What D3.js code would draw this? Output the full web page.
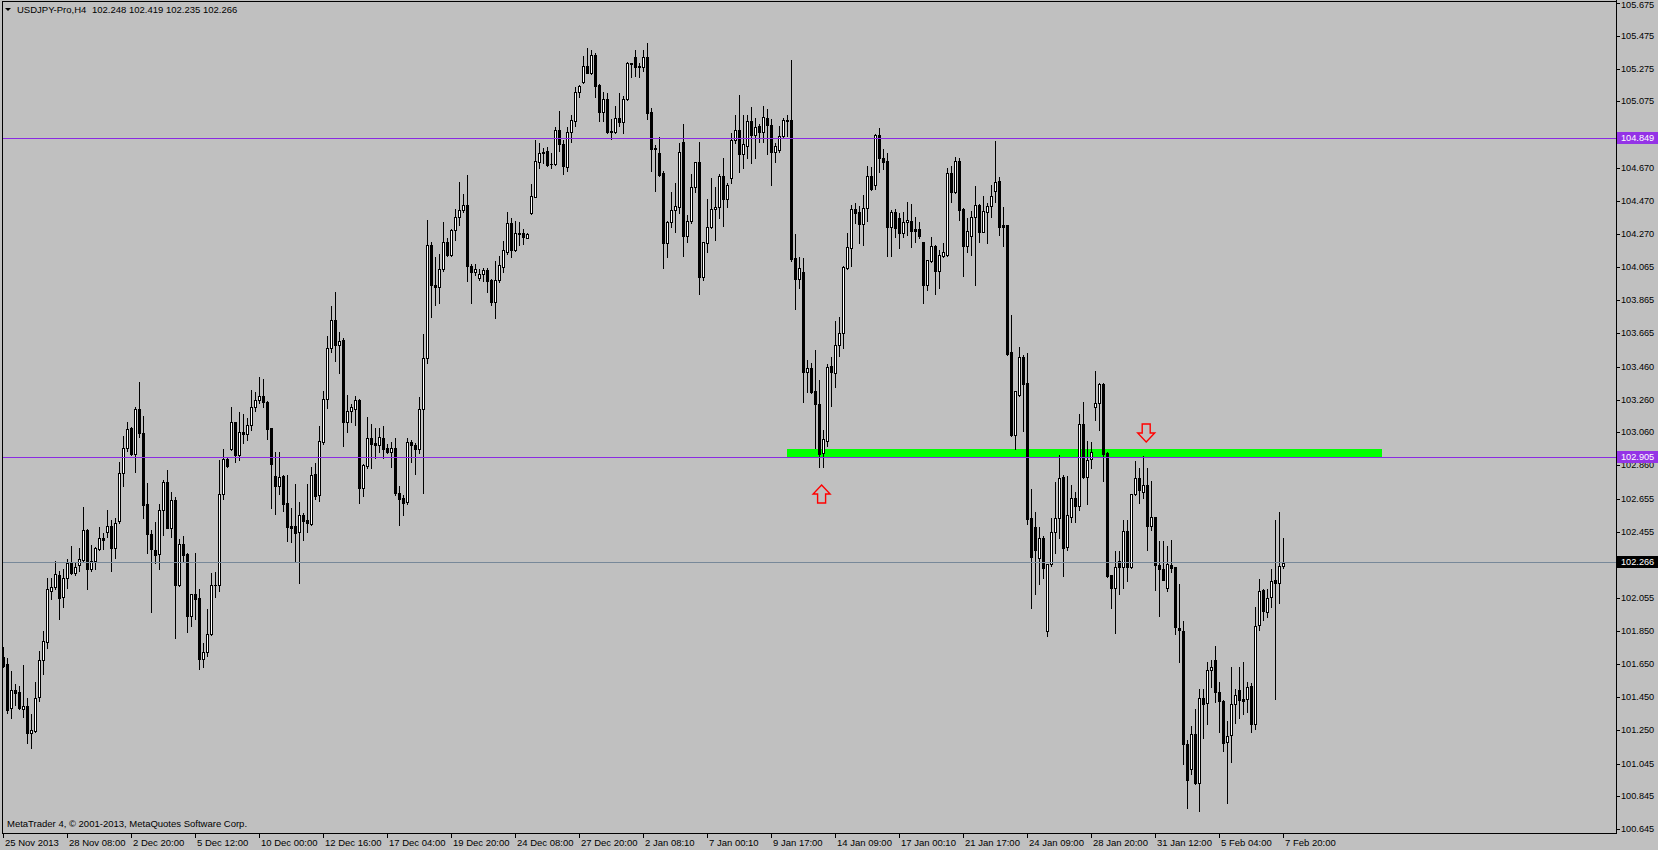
<!DOCTYPE html>
<html><head><meta charset="utf-8">
<script src="https://cdn.jsdelivr.net/npm/d3@7"></script>
<style>
html,body{margin:0;padding:0;background:#c0c0c0;overflow:hidden;}
svg{display:block;}
text{font-family:"Liberation Sans",Arial,sans-serif;}
</style></head><body>
<svg id="chart" width="1658" height="850"></svg>
<script>
const symbol = "USDJPY-Pro,H4";
const copyright = "MetaTrader 4, © 2001-2013, MetaQuotes Software Corp.";

const opens = [
101.695,101.650,101.380,101.492,101.478,101.378,101.395,101.232,101.244,101.447,
101.675,101.786,102.097,102.117,102.192,102.056,102.172,102.263,102.206,102.251,
102.283,102.464,102.231,102.275,102.352,102.415,102.456,102.488,102.354,102.519,
102.811,102.963,103.085,102.929,103.200,103.054,102.622,102.440,102.344,102.318,
102.586,102.756,102.480,102.647,102.133,102.379,102.320,101.945,102.074,102.052,
101.679,101.721,101.831,102.129,102.129,102.683,102.896,102.960,103.121,102.925,
103.065,103.048,103.103,103.213,103.257,103.281,103.247,103.085,102.794,102.736,
102.794,102.628,102.492,102.492,102.451,102.557,102.527,102.502,102.807,102.679,
103.003,103.261,103.571,103.744,103.592,103.622,103.125,103.192,103.200,103.257,
102.723,102.857,103.024,102.993,102.983,103.024,102.965,102.942,102.967,102.689,
102.658,102.634,102.999,102.981,102.957,103.200,103.511,104.198,103.957,103.947,
104.052,104.217,104.142,104.292,104.373,104.411,104.444,104.075,104.038,103.998,
104.022,104.048,103.985,103.856,103.985,104.069,104.160,104.332,104.170,104.271,
104.271,104.246,104.394,104.495,104.708,104.767,104.773,104.694,104.692,104.901,
104.816,104.678,104.887,104.958,105.130,105.195,105.291,105.250,105.358,105.175,
105.013,105.088,104.895,104.891,104.972,104.952,105.088,105.307,105.343,105.291,
105.287,105.343,105.013,104.794,104.759,104.637,104.211,104.339,104.412,104.432,
104.828,104.258,104.345,104.552,104.704,104.008,104.211,104.309,104.418,104.434,
104.621,104.483,104.607,104.840,104.901,104.757,104.806,104.956,104.869,104.925,
104.891,104.972,104.929,104.769,104.779,104.865,104.962,104.962,104.120,103.996,
104.039,103.430,103.450,103.312,103.231,102.937,103.008,103.465,103.424,103.592,
103.667,104.063,104.185,104.418,104.400,104.327,104.424,104.621,104.566,104.871,
104.733,104.712,104.313,104.404,104.363,104.276,104.339,104.345,104.296,104.296,
104.217,103.957,104.105,104.194,104.044,104.136,104.140,104.637,104.525,104.712,
104.420,104.197,104.257,104.369,104.444,104.282,104.403,104.438,104.531,104.590,
104.322,104.322,103.547,103.044,103.288,103.517,103.361,102.537,102.482,102.297,
102.415,101.853,102.257,102.456,102.537,102.787,102.365,102.547,102.659,102.614,
103.111,102.787,102.898,103.213,103.237,103.355,102.933,102.192,102.111,102.275,
102.239,102.460,102.243,102.683,102.781,102.695,102.738,102.493,102.543,102.251,
102.227,102.115,102.251,102.239,101.867,101.851,101.161,101.009,101.222,100.924,
101.441,101.411,101.612,101.675,101.478,101.427,101.173,101.218,101.405,101.490,
101.437,101.437,101.514,101.287,101.888,102.099,101.969,102.056,102.160,102.141,
102.248];

const highs = [
101.756,101.685,101.608,101.529,101.516,101.644,101.441,101.346,101.539,101.729,
101.853,102.172,102.172,102.277,102.218,102.229,102.289,102.369,102.273,102.354,
102.606,102.470,102.375,102.360,102.484,102.446,102.588,102.527,102.541,102.882,
103.038,103.123,103.095,103.217,103.369,103.160,102.750,102.466,102.513,102.624,
102.770,102.831,102.699,102.667,102.409,102.431,102.325,102.078,102.326,102.105,
101.776,101.983,102.206,102.210,102.892,102.957,102.912,103.213,103.125,103.186,
103.170,103.150,103.318,103.308,103.395,103.385,103.250,103.090,102.942,102.938,
102.800,102.798,102.598,102.744,102.634,102.569,102.744,102.849,102.874,103.101,
103.312,103.649,103.831,103.916,103.673,103.632,103.287,103.235,103.283,103.262,
102.865,103.154,103.109,103.089,103.085,103.097,102.987,103.003,103.028,102.734,
102.679,103.028,103.014,102.997,103.273,103.659,104.353,104.221,104.125,104.146,
104.343,104.241,104.296,104.418,104.582,104.509,104.627,104.085,104.085,104.052,
104.063,104.058,103.991,104.103,104.134,104.225,104.399,104.363,104.347,104.343,
104.297,104.276,104.572,104.840,104.820,104.794,104.800,104.759,104.917,105.017,
104.840,104.917,104.992,105.161,105.172,105.352,105.398,105.388,105.368,105.180,
105.135,105.128,104.968,105.047,105.128,105.108,105.317,105.310,105.388,105.311,
105.388,105.429,105.036,104.810,104.856,104.654,104.345,104.522,104.576,104.820,
104.938,104.382,104.631,104.708,104.828,104.220,104.481,104.607,104.552,104.631,
104.729,104.576,104.885,104.992,105.114,104.992,104.992,105.043,104.972,104.938,
105.047,105.027,104.966,104.820,104.925,104.972,104.992,105.327,104.268,104.126,
104.120,103.501,103.481,103.562,103.379,103.075,103.477,103.521,103.738,103.765,
104.073,104.276,104.445,104.459,104.438,104.505,104.682,104.678,104.877,104.911,
104.783,104.759,104.414,104.418,104.398,104.404,104.461,104.448,104.371,104.339,
104.220,104.112,104.247,104.201,104.168,104.215,104.671,104.683,104.736,104.730,
104.425,104.363,104.408,104.560,104.448,104.499,104.454,104.566,104.834,104.612,
104.432,104.325,103.774,103.315,103.580,103.531,103.541,102.713,102.573,102.486,
102.431,102.260,102.537,102.760,102.923,102.801,102.795,102.740,102.700,103.172,
103.243,103.008,103.004,103.434,103.358,103.360,102.940,102.195,102.340,102.340,
102.527,102.527,102.686,102.886,102.846,102.919,102.846,102.767,102.548,102.399,
102.399,102.369,102.407,102.242,102.135,101.912,101.188,101.273,101.376,101.496,
101.496,101.664,101.675,101.760,101.539,101.431,101.303,101.630,101.496,101.630,
101.660,101.539,101.537,101.995,102.168,102.105,102.107,102.227,102.527,102.578,
102.419];

const lows = [
101.634,101.354,101.324,101.401,101.374,101.326,101.167,101.141,101.238,101.427,
101.587,101.746,102.046,102.107,101.926,101.999,102.115,102.196,102.192,102.218,
102.273,102.107,102.218,102.231,102.344,102.348,102.425,102.218,102.298,102.511,
102.734,102.947,102.922,102.821,103.030,102.537,102.324,101.969,102.263,102.231,
102.436,102.476,102.425,101.811,102.125,102.273,101.843,101.884,101.922,101.618,
101.630,101.699,101.825,102.060,102.095,102.653,102.850,102.955,102.882,102.892,
102.993,103.014,103.075,103.192,103.241,103.216,103.020,102.602,102.565,102.683,
102.581,102.399,102.395,102.277,102.145,102.405,102.456,102.496,102.654,102.642,
102.987,103.210,103.551,103.494,103.423,102.979,103.064,103.121,103.105,102.632,
102.675,102.845,102.845,102.906,102.942,102.906,102.935,102.851,102.680,102.494,
102.555,102.625,102.882,102.807,102.932,102.689,103.480,103.764,103.835,103.849,
104.044,104.134,104.134,104.231,104.322,104.403,103.983,103.845,104.018,103.987,
103.983,103.916,103.835,103.758,103.977,104.038,104.146,104.129,104.164,104.200,
104.207,104.242,104.388,104.490,104.672,104.698,104.682,104.672,104.688,104.773,
104.633,104.654,104.830,104.928,105.104,105.185,105.246,105.240,105.104,104.956,
104.958,104.885,104.846,104.885,104.926,104.885,105.084,105.226,105.230,105.226,
105.262,104.968,104.654,104.532,104.621,104.063,104.126,104.309,104.282,104.394,
104.136,104.221,104.337,104.526,103.901,103.988,104.156,104.302,104.231,104.363,
104.317,104.430,104.580,104.820,104.647,104.672,104.729,104.698,104.729,104.830,
104.830,104.753,104.564,104.708,104.769,104.856,104.865,104.104,103.813,103.941,
103.247,103.308,103.298,102.967,102.848,102.848,102.978,103.221,103.339,103.525,
103.576,104.053,104.073,104.333,104.215,104.201,104.347,104.536,104.544,104.647,
104.662,104.136,104.136,104.252,104.185,104.252,104.260,104.190,104.221,104.245,
103.850,103.927,104.099,103.904,103.939,104.130,104.134,104.464,104.515,104.355,
104.012,104.160,104.140,103.957,104.221,104.278,104.215,104.373,104.464,104.263,
104.197,103.531,103.040,102.959,103.283,103.068,102.504,101.993,102.076,102.139,
102.175,101.821,102.247,102.328,102.415,102.186,102.344,102.517,102.517,102.588,
102.781,102.624,102.842,103.136,103.075,102.767,102.180,101.989,101.837,102.077,
102.115,102.156,102.237,102.679,102.629,102.659,102.344,102.466,102.101,101.943,
102.160,102.095,102.212,101.831,101.664,101.044,100.772,100.979,100.920,100.756,
101.198,101.283,101.512,101.417,101.234,101.123,100.802,101.056,101.293,101.320,
101.346,101.360,101.238,101.255,101.855,101.918,101.938,101.995,101.435,102.020,
102.235];

const closes = [
101.638,101.370,101.492,101.476,101.380,101.395,101.232,101.249,101.441,101.675,
101.790,102.107,102.117,102.196,102.054,102.172,102.263,102.206,102.243,102.287,
102.464,102.231,102.275,102.354,102.415,102.407,102.488,102.354,102.511,102.811,
102.963,103.079,102.929,103.200,103.054,102.618,102.440,102.348,102.312,102.586,
102.756,102.480,102.647,102.133,102.379,102.312,101.945,102.074,102.048,101.683,
101.721,101.831,102.129,102.131,102.683,102.896,102.858,103.121,102.925,103.065,
103.048,103.103,103.213,103.257,103.282,103.243,103.080,102.865,102.736,102.786,
102.626,102.486,102.480,102.449,102.557,102.520,102.510,102.798,102.673,103.007,
103.261,103.576,103.744,103.592,103.616,103.125,103.190,103.214,103.257,102.723,
102.861,103.024,102.989,102.983,103.030,102.959,102.942,102.965,102.689,102.656,
102.628,102.999,102.981,102.957,103.200,103.511,104.198,103.955,103.947,104.052,
104.217,104.142,104.292,104.373,104.411,104.444,104.075,104.038,104.054,104.022,
104.048,103.983,103.856,103.985,104.077,104.170,104.332,104.170,104.271,104.269,
104.247,104.268,104.499,104.712,104.759,104.759,104.688,104.692,104.901,104.814,
104.684,104.887,104.962,105.132,105.169,105.291,105.250,105.358,105.171,105.013,
105.088,104.891,104.887,104.972,104.952,105.088,105.311,105.303,105.283,105.283,
105.343,105.003,104.783,104.783,104.627,104.211,104.339,104.412,104.436,104.765,
104.258,104.345,104.552,104.704,104.008,104.217,104.309,104.418,104.432,104.621,
104.483,104.566,104.840,104.901,104.757,104.814,104.956,104.869,104.921,104.891,
104.978,104.929,104.769,104.802,104.865,104.962,104.958,104.114,103.996,104.059,
103.430,103.450,103.308,103.231,102.931,103.018,103.460,103.430,103.592,103.663,
104.065,104.191,104.418,104.398,104.327,104.424,104.621,104.540,104.871,104.729,
104.708,104.313,104.400,104.307,104.276,104.339,104.353,104.289,104.286,104.255,
103.957,104.109,104.194,104.044,104.140,104.158,104.637,104.525,104.712,104.414,
104.197,104.286,104.369,104.444,104.282,104.408,104.438,104.499,104.582,104.312,
104.312,103.535,103.044,103.312,103.517,103.357,102.533,102.301,102.346,102.415,
102.232,102.257,102.456,102.537,102.781,102.359,102.555,102.659,102.614,103.111,
102.787,102.892,102.939,103.237,103.355,102.929,102.186,102.115,102.239,102.239,
102.460,102.243,102.683,102.781,102.710,102.738,102.493,102.543,102.251,102.227,
102.162,102.257,102.237,101.873,101.855,101.161,100.942,101.222,100.924,101.441,
101.407,101.612,101.630,101.478,101.427,101.167,101.210,101.405,101.460,101.431,
101.427,101.508,101.287,101.884,102.097,101.973,102.054,102.158,102.141,102.245,
102.266];

const timeLabels = ["25 Nov 2013","28 Nov 08:00","2 Dec 20:00","5 Dec 12:00","10 Dec 00:00",
  "12 Dec 16:00","17 Dec 04:00","19 Dec 20:00","24 Dec 08:00","27 Dec 20:00","2 Jan 08:10",
  "7 Jan 00:10","9 Jan 17:00","14 Jan 09:00","17 Jan 00:10","21 Jan 17:00","24 Jan 09:00",
  "28 Jan 20:00","31 Jan 12:00","5 Feb 04:00","7 Feb 20:00"];
const barsPerLabel = 16;

const priceTicks = [105.675,105.475,105.275,105.075,104.870,104.670,104.470,104.270,104.065,
  103.865,103.665,103.460,103.260,103.060,102.860,102.655,102.455,102.255,102.055,101.850,
  101.650,101.450,101.250,101.045,100.845,100.645];
const priceRange = [100.622, 105.692];

const levelPrices = [104.849, 102.905];
const bidPrice = 102.266;
const zoneBars = [196.1, 344.75];
const zonePrices = [102.905, 102.960];
const upArrow = {bar: 204.65, price: 102.740};
const downArrow = {bar: 285.8, price: 103.002};

// ---------------- drawing ----------------
const W = 1658, H = 850;
const plotL = 2, plotR = 1616, plotT = 1, plotB = 833;
const n = opens.length;
const bars = d3.range(n).map(i => ({i, o: opens[i], h: highs[i], l: lows[i], c: closes[i]}));

const x = d3.scaleLinear().domain([0, n - 1]).range([3, 3 + 4 * (n - 1)]);
const y = d3.scaleLinear().domain(priceRange).range([plotB, 0]);
const Y = v => Math.round(y(v));

const svg = d3.select('#chart').attr('shape-rendering', 'crispEdges');
svg.append('rect').attr('width', W).attr('height', H).attr('fill', '#c0c0c0');

svg.append('defs').append('clipPath').attr('id', 'clip')
  .append('rect').attr('x', plotL + 1).attr('y', plotT + 1)
  .attr('width', plotR - plotL - 1).attr('height', plotB - plotT - 1);

const plot = svg.append('g').attr('clip-path', 'url(#clip)');

// background rectangle object
plot.append('rect')
  .attr('x', Math.round(x(zoneBars[0])))
  .attr('width', Math.round(x(zoneBars[1]) - x(zoneBars[0])))
  .attr('y', Y(zonePrices[1]))
  .attr('height', Y(zonePrices[0]) - Y(zonePrices[1]))
  .attr('fill', '#00ff00');

// candles
const cg = plot.append('g').selectAll('g').data(bars).join('g');
cg.append('rect')
  .attr('x', d => Math.round(x(d.i)))
  .attr('y', d => Y(d.h))
  .attr('width', 1)
  .attr('height', d => Math.max(1, Y(d.l) - Y(d.h) + 1))
  .attr('fill', '#000');
const bodyTop = d => Y(Math.max(d.o, d.c));
const bodyH = d => Math.max(1, Y(Math.min(d.o, d.c)) - bodyTop(d) + 1);
cg.append('rect')
  .attr('x', d => Math.round(x(d.i)) - 1)
  .attr('y', bodyTop)
  .attr('width', 3)
  .attr('height', bodyH)
  .attr('fill', '#000');
cg.filter(d => d.c > d.o && bodyH(d) > 2).append('rect')
  .attr('x', d => Math.round(x(d.i)))
  .attr('y', d => bodyTop(d) + 1)
  .attr('width', 1)
  .attr('height', d => bodyH(d) - 2)
  .attr('fill', '#fff');

// horizontal lines
plot.selectAll('rect.lvl').data(levelPrices).join('rect').attr('class', 'lvl')
  .attr('x', plotL).attr('width', plotR - plotL)
  .attr('y', d => Math.floor(y(d))).attr('height', 1).attr('fill', '#8a2be2');
plot.append('rect').attr('x', plotL).attr('width', plotR - plotL)
  .attr('y', Math.floor(y(bidPrice))).attr('height', 1).attr('fill', '#778899');

// arrows
function arrowPath(cx, tip, dir) {
  const s = dir; // 1: up (tip at top), -1: down (tip at bottom)
  const pts = [[0,0],[8.5,9],[4,9],[4,18],[-4,18],[-4,9],[-8.5,9]];
  return 'M' + pts.map(p => (cx + p[0]) + ',' + (tip + s * p[1])).join('L') + 'Z';
}
plot.append('path').attr('d', arrowPath(x(upArrow.bar), y(upArrow.price), 1))
  .attr('fill', 'none').attr('stroke', '#ff0000').attr('stroke-width', 1.4)
  .attr('shape-rendering', 'geometricPrecision');
plot.append('path').attr('d', arrowPath(x(downArrow.bar), y(downArrow.price), -1))
  .attr('fill', 'none').attr('stroke', '#ff0000').attr('stroke-width', 1.4)
  .attr('shape-rendering', 'geometricPrecision');

// frame
svg.append('rect').attr('x', plotL).attr('y', plotT).attr('width', 1).attr('height', plotB - plotT + 1).attr('fill', '#000');
svg.append('rect').attr('x', plotL).attr('y', plotT).attr('width', plotR - plotL + 1).attr('height', 1).attr('fill', '#000');
svg.append('rect').attr('x', plotL).attr('y', plotB).attr('width', plotR - plotL + 1).attr('height', 1).attr('fill', '#000');
svg.append('rect').attr('x', plotR).attr('y', 0).attr('width', 1).attr('height', plotB + 1).attr('fill', '#000');

// price axis
const pa = svg.append('g');
pa.selectAll('rect.tk').data(priceTicks).join('rect').attr('class', 'tk')
  .attr('x', plotR + 1).attr('y', d => Y(d)).attr('width', 3).attr('height', 1).attr('fill', '#000');
pa.selectAll('text.tk').data(priceTicks).join('text').attr('class', 'tk')
  .attr('x', plotR + 5).attr('y', d => Math.max(Y(d) + 1, 6))
  .attr('dominant-baseline', 'middle').attr('font-size', 9.2).attr('fill', '#000')
  .text(d => d.toFixed(3));

function priceBox(p, bg) {
  const yy = Math.floor(y(p));
  pa.append('rect').attr('x', plotR + 1).attr('y', yy - 6).attr('width', W - plotR - 1).attr('height', 12).attr('fill', bg);
  pa.append('text').attr('x', plotR + 5).attr('y', yy + 1).attr('dominant-baseline', 'middle')
    .attr('font-size', 9.2).attr('fill', '#fff').text(p.toFixed(3));
}
levelPrices.forEach(p => priceBox(p, '#9433e6'));
priceBox(bidPrice, '#000');

// time axis
const ta = svg.append('g');
ta.selectAll('rect').data(timeLabels).join('rect')
  .attr('x', (d, j) => Math.round(x(j * barsPerLabel))).attr('y', plotB + 1)
  .attr('width', 1).attr('height', 4).attr('fill', '#000');
ta.selectAll('text').data(timeLabels).join('text')
  .attr('x', (d, j) => Math.round(x(j * barsPerLabel)) + 2).attr('y', 846)
  .attr('font-size', 9.5).attr('fill', '#000').text(d => d);

// header
svg.append('path').attr('d', 'M5,8L11,8L8,11Z').attr('fill', '#000').attr('shape-rendering', 'geometricPrecision');
const last = bars[n - 1];
svg.append('text').attr('x', 17).attr('y', 13).attr('font-size', 9.5).attr('fill', '#000').text(symbol);
svg.append('text').attr('x', 92).attr('y', 13).attr('font-size', 9.5).attr('fill', '#000')
  .text([last.o, last.h, last.l, last.c].map(v => v.toFixed(3)).join(' '));

svg.append('text').attr('x', 7).attr('y', 827).attr('font-size', 9.5).attr('fill', '#000').text(copyright);
</script>
</body></html>
